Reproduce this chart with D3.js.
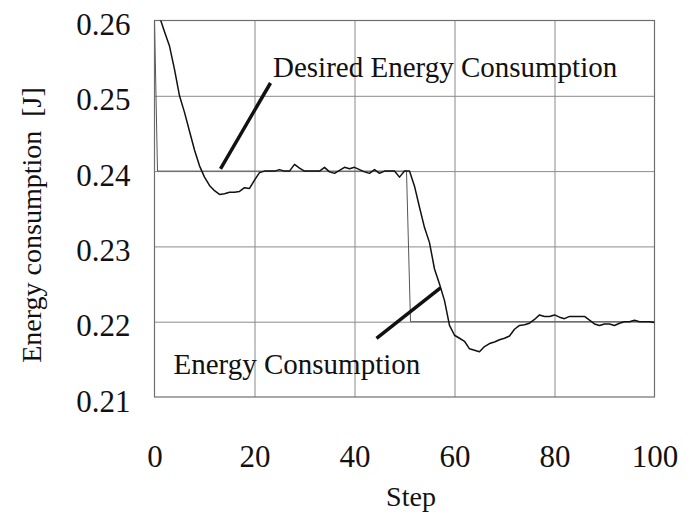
<!DOCTYPE html>
<html>
<head>
<meta charset="utf-8">
<script src="https://cdn.jsdelivr.net/npm/d3@7/dist/d3.min.js"></script>
<style>
  html, body { margin: 0; padding: 0; background: #fff; }
  svg { display: block; }
  text { font-family: "Liberation Serif", "Times New Roman", serif; fill: #111; }
</style>
</head>
<body>
<svg id="chart" width="691" height="517"></svg>
<script>
// ---- data ----
const steps = d3.range(0, 101);
const energy = [
  0.2624, 0.2605, 0.2585, 0.2566, 0.2535, 0.2500, 0.2478, 0.2453, 0.2428, 0.2407,
  0.2392, 0.2381, 0.2374, 0.2369, 0.2370, 0.2372, 0.2372, 0.2373, 0.2378, 0.2377,
  0.2388, 0.2398, 0.2400, 0.2400, 0.2400, 0.2402, 0.2400, 0.2400, 0.2409, 0.2404,
  0.2400, 0.2400, 0.2400, 0.2400, 0.2405, 0.2399, 0.2397, 0.2401, 0.2405, 0.2403,
  0.2405, 0.2402, 0.2399, 0.2397, 0.2402, 0.2397, 0.2400, 0.2400, 0.2400, 0.2392,
  0.2400, 0.2400, 0.2380, 0.2352, 0.2325, 0.2305, 0.2270, 0.2250, 0.2228, 0.2195,
  0.2182, 0.2178, 0.2174, 0.2164, 0.2162, 0.2160, 0.2167, 0.2171, 0.2173, 0.2176,
  0.2178, 0.2181, 0.2190, 0.2195, 0.2196, 0.2198, 0.2203, 0.2209, 0.2207, 0.2207,
  0.2209, 0.2206, 0.2204, 0.2207, 0.2207, 0.2207, 0.2207, 0.2202, 0.2197, 0.2195,
  0.2197, 0.2197, 0.2195, 0.2198, 0.2200, 0.2200, 0.2202, 0.2200, 0.2200, 0.2200,
  0.2199
];
const desiredSteps = [0, 0.6, 50.4, 51.2, 100];
const desiredValues = [0.26, 0.24, 0.24, 0.22, 0.22];

const xTicks = [0, 20, 40, 60, 80, 100];
const yTicks = [0.21, 0.22, 0.23, 0.24, 0.25, 0.26];

// annotation pointers: [x1, y1, x2, y2] in data units
const pointerDesired = [13.2, 0.2403, 23.2, 0.2517];
const pointerEnergy = [44.4, 0.2178, 57.2, 0.2245];
const labelDesired = { text: "Desired Energy Consumption", step: 23.7, value: 0.25254 };
const labelEnergy = { text: "Energy Consumption", step: 3.8, value: 0.2131 };

const xTitle = "Step";
const yTitle = "Energy consumption\u00A0\u00A0[J]";

// ---- layout ----
const FONT = '"Liberation Serif", "Times New Roman", serif';
const svg = d3.select("#chart");
const mLeft = 154.5, mRight = 654.5, mTop = 20.5, mBottom = 397;
const x = d3.scaleLinear().domain([0, 100]).range([mLeft, mRight]);
const y = d3.scaleLinear().domain([0.21, 0.26]).range([mBottom, mTop]);

// grid
const grid = svg.append("g");
grid.append("g")
  .attr("transform", `translate(0,${mBottom})`)
  .call(d3.axisBottom(x).tickValues(xTicks.slice(1, -1)).tickSize(-(mBottom - mTop)).tickFormat(""))
  .call(g => g.select(".domain").remove())
  .call(g => g.selectAll("line").attr("stroke", "#8a8a8a").attr("stroke-width", 1));
grid.append("g")
  .attr("transform", `translate(${mLeft},0)`)
  .call(d3.axisLeft(y).tickValues(yTicks.slice(1, -1)).tickSize(-(mRight - mLeft)).tickFormat(""))
  .call(g => g.select(".domain").remove())
  .call(g => g.selectAll("line").attr("stroke", "#8a8a8a").attr("stroke-width", 1));

// frame
svg.append("rect")
  .attr("x", x(0)).attr("y", y(0.26))
  .attr("width", x(100) - x(0)).attr("height", y(0.21) - y(0.26))
  .attr("fill", "none").attr("stroke", "#6e6e6e").attr("stroke-width", 1.2);

// tick labels
svg.append("g")
  .attr("transform", `translate(0,${mBottom})`)
  .call(d3.axisBottom(x).tickValues(xTicks).tickSize(0).tickPadding(0).tickFormat(d3.format("d")))
  .attr("font-family", FONT).attr("font-size", 31)
  .call(g => g.select(".domain").remove())
  .call(g => g.selectAll("text")
    .attr("y", 70).attr("dy", 0)
    .style("font-family", FONT)
    .style("font-size", "31px").attr("fill", "#111"));
svg.append("g")
  .attr("transform", `translate(${mLeft},0)`)
  .call(d3.axisLeft(y).tickValues(yTicks).tickSize(0).tickPadding(0).tickFormat(d3.format(".2f")))
  .attr("font-family", FONT).attr("font-size", 31)
  .call(g => g.select(".domain").remove())
  .call(g => g.selectAll("text")
    .attr("x", -24).attr("dy", 14)
    .style("font-family", FONT)
    .style("font-size", "31px").attr("fill", "#111"));

// clip
svg.append("clipPath").attr("id", "plotclip")
  .append("rect").attr("x", mLeft).attr("y", mTop)
  .attr("width", mRight - mLeft).attr("height", mBottom - mTop);

const line = d3.line().x(d => x(d[0])).y(d => y(d[1]));

// desired
svg.append("path")
  .datum(desiredSteps.map((s, i) => [s, desiredValues[i]]))
  .attr("d", line)
  .attr("fill", "none").attr("stroke", "#555").attr("stroke-width", 1)
  .attr("clip-path", "url(#plotclip)");

// energy
svg.append("path")
  .datum(steps.map((s, i) => [s, energy[i]]))
  .attr("d", line)
  .attr("fill", "none").attr("stroke", "#111").attr("stroke-width", 1.5)
  .attr("stroke-linejoin", "round")
  .attr("clip-path", "url(#plotclip)");

// pointers
[pointerDesired, pointerEnergy].forEach(p => {
  svg.append("line")
    .attr("x1", x(p[0])).attr("y1", y(p[1]))
    .attr("x2", x(p[2])).attr("y2", y(p[3]))
    .attr("stroke", "#111").attr("stroke-width", 3.5);
});

// labels
[labelDesired, labelEnergy].forEach(l => {
  svg.append("text")
    .attr("x", x(l.step)).attr("y", y(l.value))
    .style("font-size", "29px")
    .text(l.text);
});

// axis titles
svg.append("text")
  .attr("x", 411).attr("y", 506)
  .attr("text-anchor", "middle")
  .style("font-size", "28px")
  .text(xTitle);
svg.append("text")
  .attr("transform", `translate(41,${225}) rotate(-90)`)
  .attr("text-anchor", "middle")
  .style("font-size", "28px")
  .text(yTitle);
</script>
</body>
</html>
